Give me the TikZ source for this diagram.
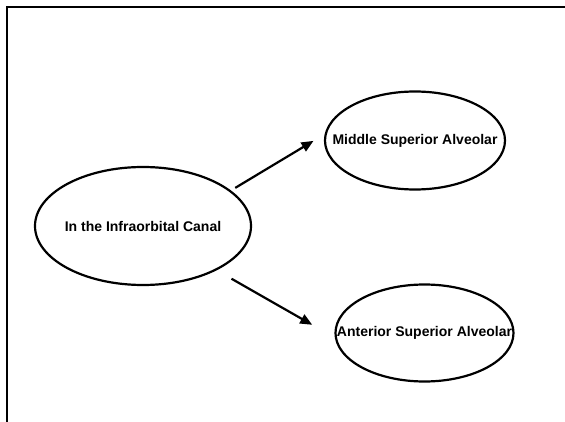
\documentclass[tikz,border=0pt]{standalone}
\usepackage{fontspec}
\setmainfont{Liberation Sans}
\usetikzlibrary{arrows.meta,shapes}

\begin{document}
\begin{tikzpicture}[x=1pt, y=-1pt, line width=2.2pt, oval node/.style={ellipse,draw,inner sep=0pt,line width=2.2pt}]%
\useasboundingbox (0,0) rectangle (565,422);
\draw[line width=2.2pt] (7,422) -- (7,7) -- (565,7);
\begin{scope}[every label/.style={font=\bfseries\fontsize{14}{16}\selectfont}]
\node[oval node,minimum width=216pt,minimum height=118pt,label=center:In the Infraorbital Canal] (vIC) at (143,226) {};
\node[oval node,minimum width=180pt,minimum height=98pt,label=center:Middle Superior Alveolar] (vMSA) at (415,140.5) {};
\node[oval node,minimum width=178pt,minimum height=97pt,label=center:Anterior Superior Alveolar] (vASA) at (424.5,333) {};
\end{scope}
\begin{scope}[every edge/.style={draw=black,line width=2.2pt,-{Triangle[length=12pt,width=10pt]}}]
\path (vIC.22) edge[shorten <=5pt,shorten >=13pt] (vMSA.176);
\path (vIC.-31) edge[shorten <=17pt,shorten >=26pt] (vASA.183);
\end{scope}
\end{tikzpicture}
\end{document}
